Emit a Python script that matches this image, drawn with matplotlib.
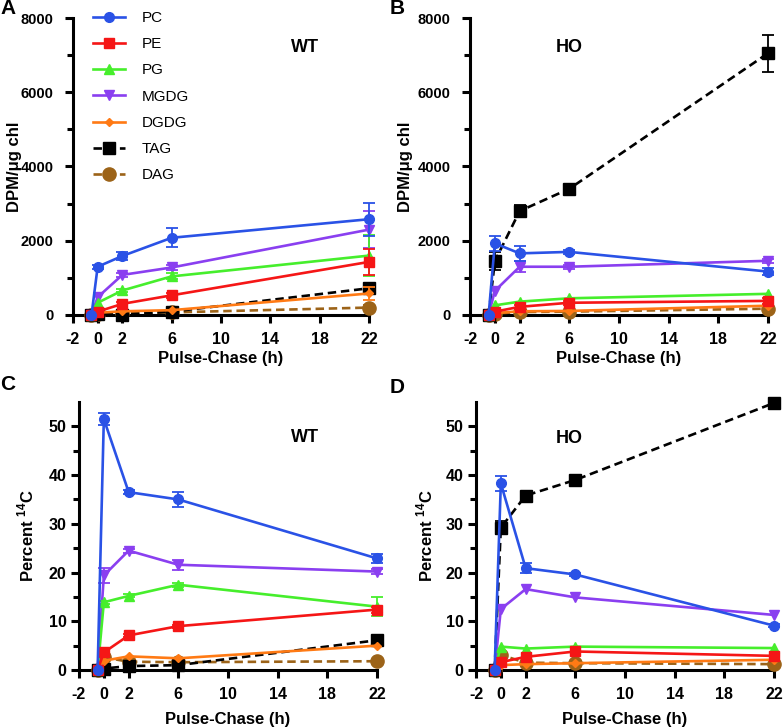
import matplotlib
matplotlib.use("Agg")

import matplotlib.pyplot as plt
import numpy as np

plt.rcParams['font.family'] = ['Liberation Sans', 'DejaVu Sans']
plt.rcParams['mathtext.fontset'] = 'custom'
plt.rcParams['mathtext.rm'] = 'Liberation Sans'
plt.rcParams['mathtext.bf'] = 'Liberation Sans:bold'
plt.rcParams['axes.unicode_minus'] = False

# time points (h), first point is the pre-pulse zero
hours = [-0.5, 0, 2, 6, 22]
lipids = ["PC", "PE", "PG", "MGDG", "DGDG", "TAG", "DAG"]

# A: WT, DPM/ug chl
wt_dpm = {
    "PC":   [0, 1300, 1590, 2080, 2580],
    "PE":   [0, 90, 300, 530, 1430],
    "PG":   [0, 330, 660, 1040, 1600],
    "MGDG": [0, 480, 1080, 1280, 2300],
    "DGDG": [0, 60, 100, 130, 580],
    "TAG":  [0, 20, 10, 90, 720],
    "DAG":  [0, 40, 50, 70, 200],
}
wt_dpm_err = {
    "PC":   [0, 60, 100, 250, 450],
    "PE":   [0, 0, 60, 60, 340],
    "PG":   [0, 0, 50, 80, 560],
    "MGDG": [0, 0, 60, 80, 500],
    "DGDG": [0, 0, 0, 0, 180],
    "TAG":  [0, 0, 0, 0, 120],
    "DAG":  [0, 0, 0, 0, 60],
}

# B: HO, DPM/ug chl
ho_dpm = {
    "PC":   [0, 1930, 1660, 1700, 1170],
    "PE":   [0, 90, 220, 330, 380],
    "PG":   [0, 260, 360, 450, 570],
    "MGDG": [0, 650, 1300, 1300, 1460],
    "DGDG": [0, 50, 100, 110, 250],
    "TAG":  [0, 1450, 2800, 3400, 7050],
    "DAG":  [0, 40, 80, 90, 170],
}
ho_dpm_err = {
    "PC":   [0, 200, 200, 50, 100],
    "PE":   [0, 0, 60, 60, 80],
    "PG":   [0, 0, 0, 0, 0],
    "MGDG": [0, 0, 150, 50, 50],
    "DGDG": [0, 0, 0, 0, 0],
    "TAG":  [0, 250, 150, 80, 500],
    "DAG":  [0, 0, 0, 0, 0],
}

# C: WT, percent 14C
wt_pct = {
    "PC":   [0, 51.5, 36.5, 35.0, 22.9],
    "PE":   [0, 3.6, 7.1, 9.0, 12.4],
    "PG":   [0, 13.9, 15.2, 17.5, 13.0],
    "MGDG": [0, 19.4, 24.5, 21.6, 20.2],
    "DGDG": [0, 1.9, 2.8, 2.4, 5.0],
    "TAG":  [0, 0.3, 0.8, 1.0, 6.1],
    "DAG":  [0, 2.6, 1.7, 1.6, 1.8],
}
wt_pct_err = {
    "PC":   [0, 1.3, 0.4, 1.5, 1.0],
    "PE":   [0, 0.3, 0.3, 0.3, 0.6],
    "PG":   [0, 0.3, 0.3, 0.4, 2.0],
    "MGDG": [0, 1.6, 0.4, 1.0, 0.5],
    "DGDG": [0, 0, 0, 0, 0],
    "TAG":  [0, 0, 0, 0, 0],
    "DAG":  [0, 0, 0, 0, 0],
}

# D: HO, percent 14C
ho_pct = {
    "PC":   [0, 38.3, 20.9, 19.6, 9.1],
    "PE":   [0, 1.6, 2.7, 3.8, 2.9],
    "PG":   [0, 4.8, 4.4, 4.8, 4.5],
    "MGDG": [0, 12.5, 16.6, 14.9, 11.3],
    "DGDG": [0, 1.0, 1.2, 1.4, 2.1],
    "TAG":  [0, 29.2, 35.8, 39.0, 54.8],
    "DAG":  [0, 3.1, 1.5, 1.4, 1.2],
}
ho_pct_err = {
    "PC":   [0, 1.5, 1.0, 0.3, 0.3],
    "PE":   [0, 0, 0, 0, 0],
    "PG":   [0, 0, 0, 0, 0],
    "MGDG": [0, 0, 0, 0, 0],
    "DGDG": [0, 0, 0, 0, 0],
    "TAG":  [0, 1.3, 0.5, 0.5, 0.5],
    "DAG":  [0, 0, 0, 0, 0],
}

styles = {
    "PC":   dict(color='#2a52e6', marker='o', ms=7, ls='-'),
    "PE":   dict(color='#f51616', marker='s', ms=7, ls='-'),
    "PG":   dict(color='#46ee2c', marker='^', ms=7, ls='-'),
    "MGDG": dict(color='#8a3ff0', marker='v', ms=7, ls='-'),
    "DGDG": dict(color='#ff7a14', marker='D', ms=4.5, ls='-'),
    "TAG":  dict(color='black', marker='s', ms=9, ls='--'),
    "DAG":  dict(color='#9c6318', marker='o', ms=9.5, ls='--'),
}
zorders = {"PC": 10, "PE": 9, "PG": 8, "MGDG": 7, "DGDG": 6, "TAG": 5, "DAG": 4}

W, H = 783, 727
fig = plt.figure(figsize=(W / 100, H / 100), dpi=100)


def px_axes(x0, x1, y0, y1):
    # x0..x1 left/right, y0 = top px, y1 = bottom px
    return fig.add_axes([x0 / W, 1 - y1 / H, (x1 - x0) / W, (y1 - y0) / H])


def draw(ax, data, err, ymax, major, minor, tlabel, tick_fs, ypad):
    for name in reversed(lipids):
        st = styles[name]
        y = np.array(data[name], dtype=float)
        e = np.array(err[name], dtype=float)
        ln, = ax.plot(hours, y, color=st['color'], marker=st['marker'], ms=st['ms'],
                      ls=st['ls'], lw=1.9, zorder=zorders[name], clip_on=False, label=name)
        if st['ls'] == '--':
            ln.set_dashes((3.2, 1.8))
        m = e > 0
        if m.any():
            ax.errorbar(np.array(hours)[m], y[m], yerr=e[m], fmt='none', ecolor=st['color'],
                        elinewidth=1.3, capsize=4, capthick=1.3, zorder=zorders[name], clip_on=False)
    ax.set_xlim(-2, 22)
    ax.set_ylim(0, ymax)
    ax.set_xticks([-2, 0, 2, 6, 10, 14, 18, 22])
    ax.set_yticks(major)
    ax.set_yticks(minor, minor=True)
    for s in ['top', 'right']:
        ax.spines[s].set_visible(False)
    for s in ['left', 'bottom']:
        ax.spines[s].set_linewidth(2.2)
    ax.tick_params(axis='both', which='major', direction='out', length=6, width=2.2)
    ax.tick_params(axis='y', which='minor', direction='out', length=4, width=2.2)
    ax.tick_params(axis='x', labelsize=11.5, pad=6)
    ax.tick_params(axis='y', labelsize=tick_fs, pad=ypad)
    for lab in ax.get_xticklabels() + ax.get_yticklabels():
        lab.set_fontweight('bold')
    ax.set_xlabel("Pulse-Chase (h)", fontsize=12, fontweight='bold')
    ax.set_ylabel(tlabel, fontsize=12, fontweight='bold')


axA = px_axes(73, 369, 18, 315)
axB = px_axes(470, 768, 18, 315)
axC = px_axes(79, 377, 402, 670)
axD = px_axes(476, 774, 402, 670)

dpm_major = [0, 2000, 4000, 6000, 8000]
dpm_minor = [1000, 3000, 5000, 7000]
pct_major = [0, 10, 20, 30, 40, 50]
pct_minor = [5, 15, 25, 35, 45]

draw(axA, wt_dpm, wt_dpm_err, 8000, dpm_major, dpm_minor, "DPM/\u03bcg chl", 10.5, 8)
draw(axB, ho_dpm, ho_dpm_err, 8000, dpm_major, dpm_minor, "DPM/\u03bcg chl", 10.5, 8)
draw(axC, wt_pct, wt_pct_err, 55, pct_major, pct_minor, r"Percent $^{\mathbf{14}}$C", 11.5, 3)
draw(axD, ho_pct, ho_pct_err, 55, pct_major, pct_minor, r"Percent $^{\mathbf{14}}$C", 11.5, 3)

axA.yaxis.set_label_coords(-0.172, 0.5)
axB.yaxis.set_label_coords(-0.19, 0.5)
axC.yaxis.set_label_coords(-0.142, 0.5)
axD.yaxis.set_label_coords(-0.136, 0.5)
for ax in (axA, axB):
    ax.xaxis.set_label_coords(0.5, -0.122)
for ax in (axC, axD):
    ax.xaxis.set_label_coords(0.5, -0.155)

# legend in panel A
handles, labels = axA.get_legend_handles_labels()
order = [labels.index(n) for n in lipids]
axA.legend([handles[i] for i in order], [labels[i] for i in order],
           loc='upper left', bbox_to_anchor=(93 / W, 1 - 11 / H), bbox_transform=fig.transFigure,
           frameon=False, fontsize=11, handlelength=2.1, handletextpad=1.1,
           labelspacing=0.80, borderpad=0, borderaxespad=0)

fig.text(305 / W, 1 - 48 / H, "WT", fontsize=13, fontweight='bold', ha='center', va='center')
fig.text(569 / W, 1 - 48 / H, "HO", fontsize=13, fontweight='bold', ha='center', va='center')
fig.text(305 / W, 1 - 437 / H, "WT", fontsize=13, fontweight='bold', ha='center', va='center')
fig.text(569 / W, 1 - 439 / H, "HO", fontsize=13, fontweight='bold', ha='center', va='center')

for lbl, (px, py) in zip("ABCD", [(8, 9), (397, 9), (8, 385), (397, 387)]):
    fig.text(px / W, 1 - py / H, lbl, fontsize=15, fontweight='bold', ha='center', va='center')

plt.savefig("out.png", dpi=100)
